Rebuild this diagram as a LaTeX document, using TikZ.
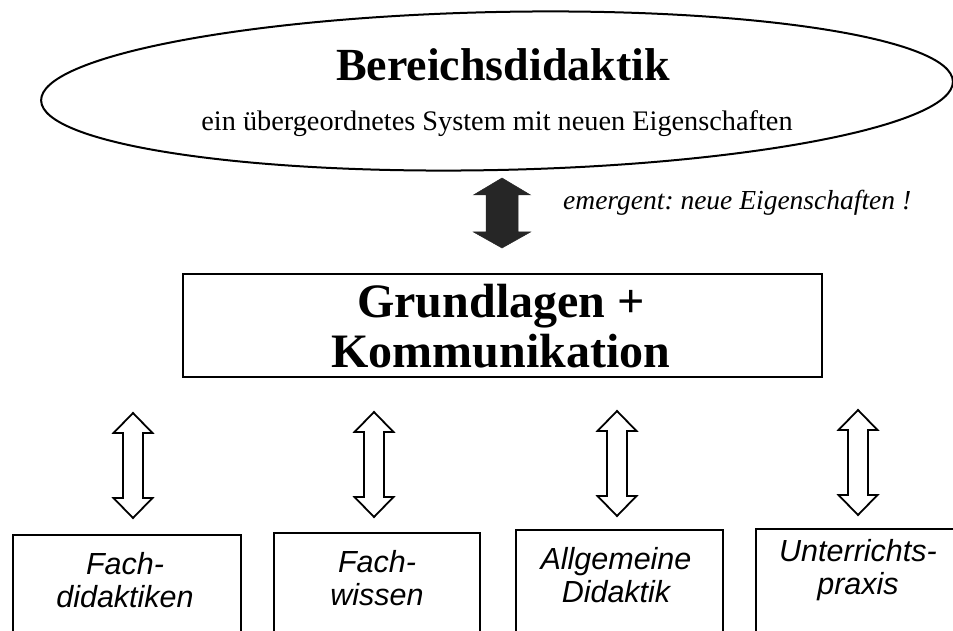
\documentclass[tikz,border=0pt]{standalone}
\usepackage{fontspec}
\setmainfont{Liberation Serif}
\newfontfamily\arialfont{Liberation Sans}
\usetikzlibrary{shapes.geometric,calc}
\frenchspacing
\tikzset{
  topell/.style={draw, line width=2pt, ellipse, minimum width=912pt, minimum height=158pt, inner sep=0pt},
  midbox/.style={draw, line width=1.8pt, rectangle, minimum width=639pt, minimum height=103pt, inner sep=0pt},
  lowbox/.style={draw, line width=1.8pt, rectangle, anchor=north west, inner sep=0pt},
  lowtext/.style={font=\arialfont\itshape\fontsize{30.5}{33}\selectfont, align=center, inner sep=0pt},
  hollowarrow/.style={draw, line width=1.8pt, fill=white, line join=miter},
  solidarrow/.style={fill=black!85, draw=black!85, line width=0.5pt}
}
\newcommand{\hollowdbl}[2]{%
  \draw[hollowarrow] (#1) -- ($(#1)+(19.5,20)$) -- ($(#1)+(10,20)$) -- ($(#2)+(10,-20)$) -- ($(#2)+(19.5,-20)$) -- (#2)
    -- ($(#2)+(-19.5,-20)$) -- ($(#2)+(-10,-20)$) -- ($(#1)+(-10,20)$) -- ($(#1)+(-19.5,20)$) -- cycle;}
\begin{document}
\begin{tikzpicture}[x=1pt,y=-1pt]
\useasboundingbox (0,0) rectangle (953,631);
\clip (0,0) rectangle (953,631);
% top ellipse
\node[topell, rotate=1.2] (ell) at (497,91) {};
\node[inner sep=0pt, font=\bfseries\fontsize{46}{50}\selectfont] (title) at (503,65) {Bereichsdidaktik};
\node[inner sep=0pt, font=\fontsize{28.3}{32}\selectfont] (sub) at (497,124) {ein übergeordnetes System mit neuen Eigenschaften};
% solid arrow
\coordinate (st) at (502,178);
\coordinate (sb) at (502,248);
\fill[solidarrow] (st) -- ($(st)+(28.5,17)$) -- ($(st)+(16,17)$) -- ($(sb)+(16,-16)$) -- ($(sb)+(28.5,-16)$) -- (sb)
  -- ($(sb)+(-28.5,-16)$) -- ($(sb)+(-16,-16)$) -- ($(st)+(-16,17)$) -- ($(st)+(-28.5,17)$) -- cycle;
\node[anchor=west, inner sep=0pt, font=\itshape\fontsize{27.5}{30}\selectfont] (emg) at (563,203) {emergent: neue Eigenschaften !};
% middle box
\node[midbox] (mid) at (502.5,325.5) {};
\node[inner sep=0pt, align=center, font=\bfseries\fontsize{48}{50}\selectfont] (midtext) at (501,326) {Grundlagen +\\Kommunikation};
% bottom boxes
\node[lowbox, minimum width=228pt, minimum height=120pt] (b1) at (12,534) {};
\node[lowbox, minimum width=206pt, minimum height=120pt] (b2) at (273,532) {};
\node[lowbox, minimum width=207pt, minimum height=120pt] (b3) at (515,529) {};
\node[lowbox, minimum width=230pt, minimum height=120pt] (b4) at (755,528) {};
\node[lowtext] (t1) at (125,580) {Fach-\\didaktiken};
\node[lowtext] (t2) at (377,578) {Fach-\\wissen};
\node[lowtext] (t3) at (616,575) {Allgemeine\\Didaktik};
\node[lowtext] (t4) at (858,570) {Unterrichts-\\praxis};
% hollow double arrows
\coordinate (a1t) at (133,413); \coordinate (a1b) at (133,518);
\coordinate (a2t) at (374,412); \coordinate (a2b) at (374,517);
\coordinate (a3t) at (617,411); \coordinate (a3b) at (617,516);
\coordinate (a4t) at (858,410); \coordinate (a4b) at (858,515);
\hollowdbl{a1t}{a1b}
\hollowdbl{a2t}{a2b}
\hollowdbl{a3t}{a3b}
\hollowdbl{a4t}{a4b}
\end{tikzpicture}
\end{document}
